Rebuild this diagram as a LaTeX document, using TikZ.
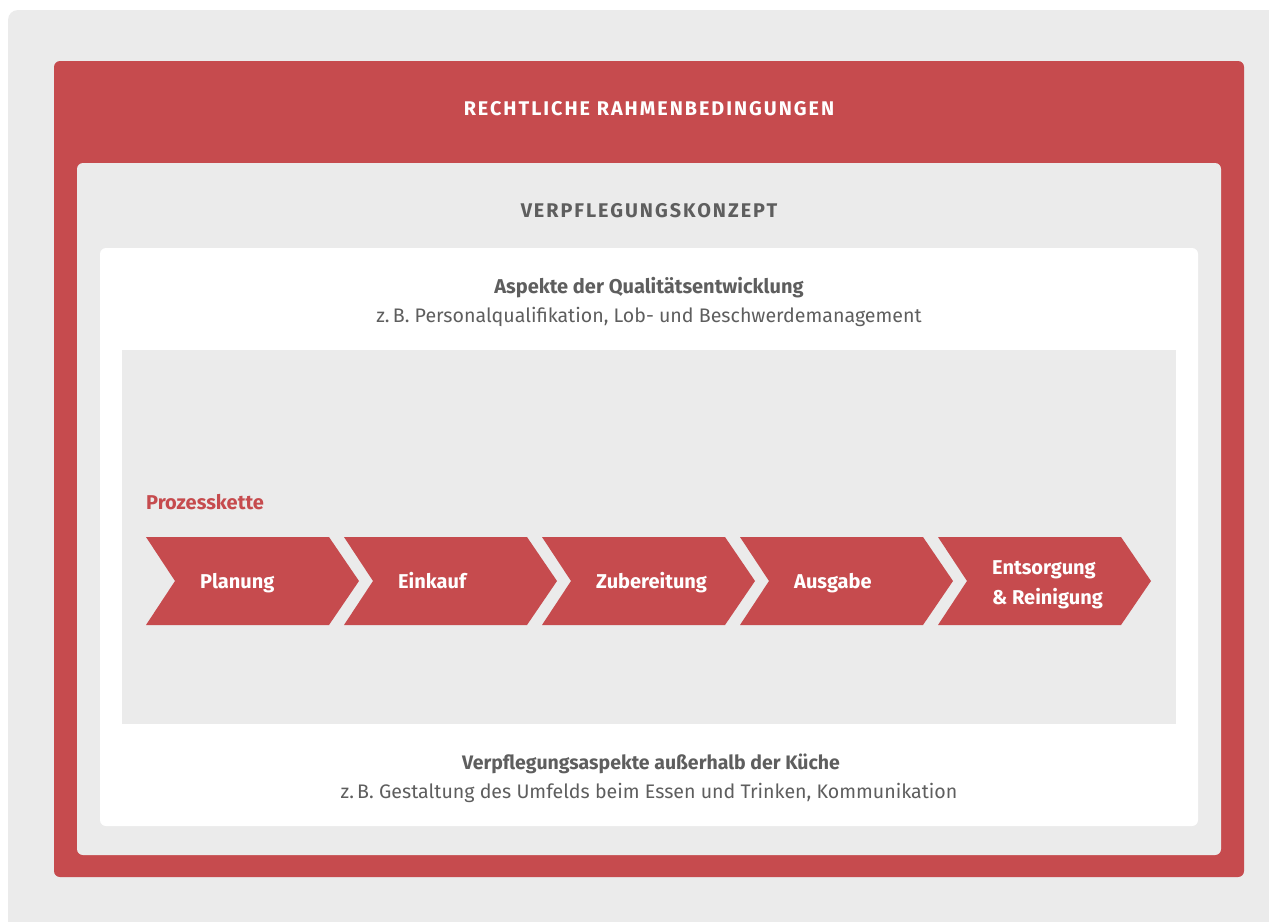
\documentclass[tikz,border=0pt]{standalone}
\usepackage{fontspec}
\setmainfont{Fira Sans}
\newfontfamily\spacedfont[LetterSpace=10]{Fira Sans}
\definecolor{rred}{HTML}{C64B4E}
\definecolor{lgray}{HTML}{EBEBEB}
\definecolor{tgray}{HTML}{5E5E5E}
\begin{document}
\begin{tikzpicture}[x=1pt,y=-1pt,
  panel/.style={inner sep=0pt,outer sep=0pt,anchor=north west,rounded corners=6pt},
  chev/.style={fill=rred,draw=none},
  chevlabel/.style={anchor=base west,inner sep=0pt,text=white,font=\fontsize{20}{30}\selectfont\bfseries,align=left},
  heading/.style={anchor=base,inner sep=0pt,font=\fontsize{20}{24}\selectfont\bfseries},
  sub/.style={anchor=base,inner sep=0pt,text=tgray,font=\fontsize{19.6}{24}\selectfont}]
\useasboundingbox (0,0) rectangle (1269,921);
\fill[white] (0,0) rectangle (1269,921);
\node[panel,fill=lgray,minimum width=1290pt,minimum height=940pt,rounded corners=10pt] (bg) at (8,10) {};
\node[panel,fill=rred,minimum width=1190pt,minimum height=816pt] (legal) at (54,61) {};
\node[panel,fill=lgray,minimum width=1144pt,minimum height=692pt] (concept) at (77,163) {};
\node[panel,fill=white,minimum width=1098pt,minimum height=578pt] (quality) at (100,248) {};
\node[panel,fill=lgray,minimum width=1054pt,minimum height=374pt,rounded corners=0pt] (process) at (122,350) {};

\node[heading,text=white,font=\fontsize{19.8}{24}\selectfont\bfseries\spacedfont] (t1) at (649,115) {RECHTLICHE RAHMENBEDINGUNGEN};
\node[heading,text=tgray,font=\fontsize{19.8}{24}\selectfont\bfseries\spacedfont] (t2) at (649,217) {VERPFLEGUNGSKONZEPT};
\node[heading,text=tgray] (t3) at (649,293) {Aspekte der Qualitätsentwicklung};
\node[sub] (t4) at (649,322) {z.\,B. Personalqualifikation, Lob- und Beschwerdemanagement};
\node[heading,text=rred,anchor=base west] (t5) at (146,509) {Prozesskette};
\node[heading,text=tgray,font=\fontsize{19.5}{24}\selectfont\bfseries] (t6) at (651,769) {Verpflegungsaspekte außerhalb der Küche};
\node[sub] (t7) at (649,798) {z.\,B. Gestaltung des Umfelds beim Essen und Trinken, Kommunikation};

\foreach \i/\nm in {0/c1,1/c2,2/c3,3/c4,4/c5}{
  \pgfmathsetmacro{\L}{146+198*\i}
  \fill[chev] (\L,537) -- ++(183,0) -- ++(30,44) -- ++(-30,44) -- ++(-183,0) -- ++(29,-44) -- cycle;
  \coordinate (\nm) at (\L+54,588);
}
\node[chevlabel] (l1) at (c1) {Planung};
\node[chevlabel] (l2) at (c2) {Einkauf};
\node[chevlabel] (l3) at (c3) {Zubereitung};
\node[chevlabel] (l4) at (c4) {Ausgabe};
\node[chevlabel,anchor=base west] (l5a) at ([yshift=14pt]c5) {Entsorgung};
\node[chevlabel,anchor=base west] (l5b) at ([yshift=-16pt]c5) {\&~Reinigung};
\end{tikzpicture}
\end{document}
